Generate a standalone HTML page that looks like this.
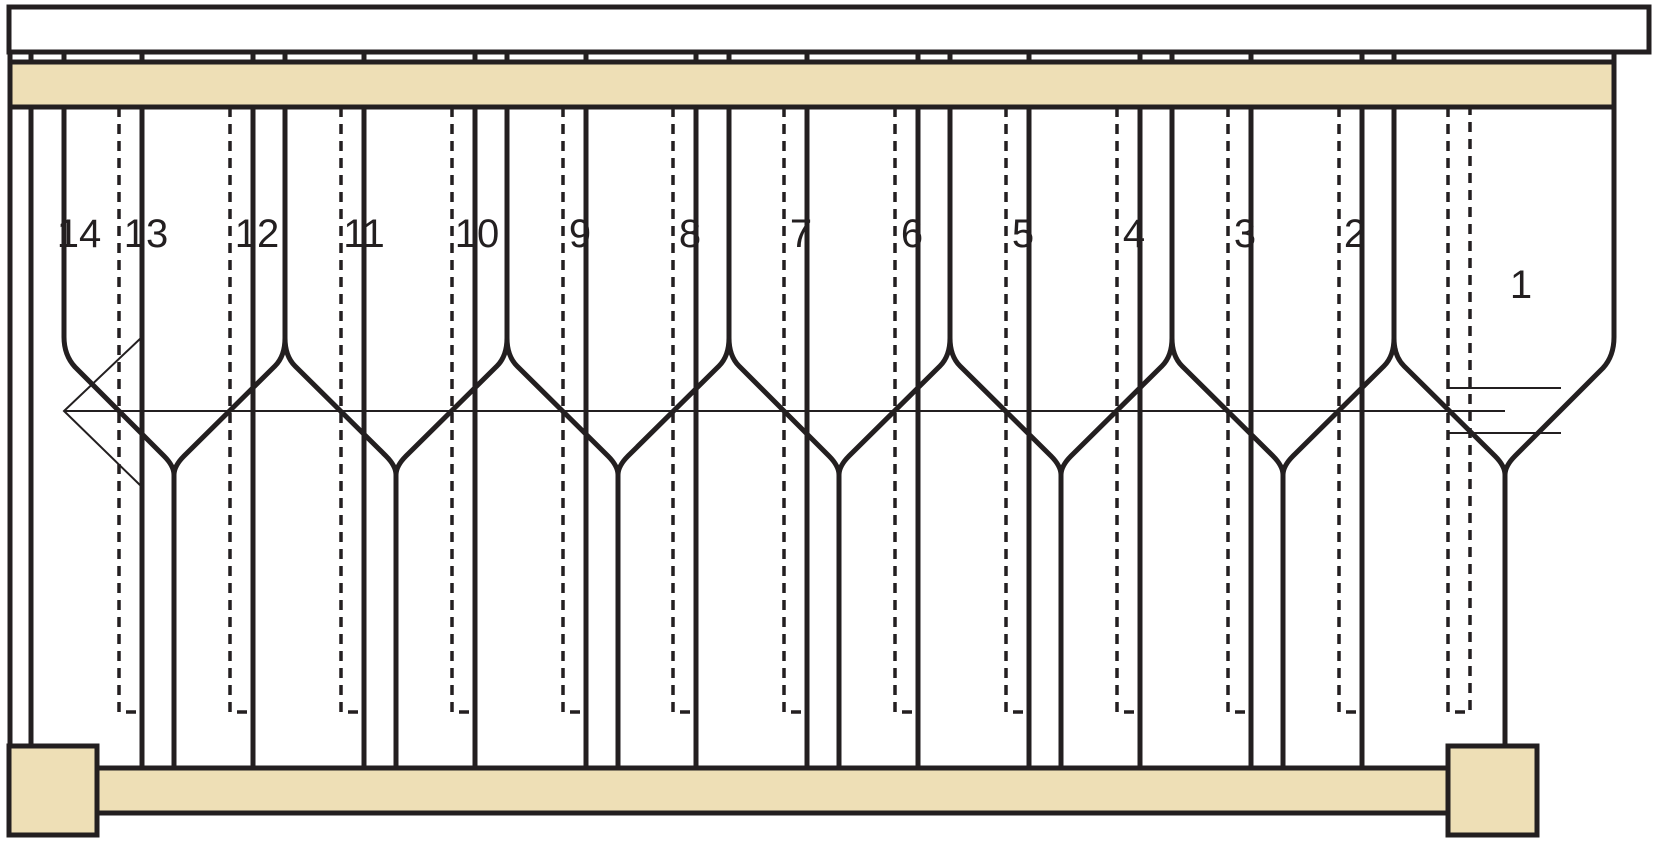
<!DOCTYPE html>
<html><head><meta charset="utf-8"><style>
html,body{margin:0;padding:0;background:#fff;}
svg{display:block;}
text{font-family:"Liberation Sans",sans-serif;font-size:40px;fill:#231f20;}
</style></head><body>
<svg width="1656" height="843" viewBox="0 0 1656 843" xmlns="http://www.w3.org/2000/svg">
<g stroke="#231f20" fill="none" stroke-linecap="butt">
<g stroke-width="3.5" stroke-dasharray="10,7">
<path d="M119 107V712H142"/>
<path d="M230 107V712H253"/>
<path d="M341 107V712H364"/>
<path d="M452 107V712H475"/>
<path d="M563 107V712H586"/>
<path d="M673 107V712H696"/>
<path d="M784 107V712H807"/>
<path d="M895 107V712H918"/>
<path d="M1006 107V712H1029"/>
<path d="M1117 107V712H1140"/>
<path d="M1228 107V712H1251"/>
<path d="M1339 107V712H1362"/>
<path d="M1448 107V712H1470V107"/>
</g>
<g stroke-width="5">
<path d="M10 7V745M31 52V745"/>
<path d="M142 52V768M253 52V768M364 52V768M475 52V768M586 52V768M696 52V768M807 52V768M918 52V768M1029 52V768M1140 52V768M1251 52V768M1362 52V768"/>
<path d="M285 52V338M507 52V338M729 52V338M950 52V338M1172 52V338M1394 52V338"/>
<path d="M174 475V768M396 475V768M618 475V768M839 475V768M1061 475V768M1283 475V768M1505 475V745"/>
<path stroke-linejoin="round" d="M64 52V337Q64 355 75 367L164 456Q174 466 174 475Q174 466 184 456L275 366Q285 356 285 338Q285 356 295 366L386 456Q396 466 396 475Q396 466 406 456L497 366Q507 356 507 338Q507 356 517 366L608 456Q618 466 618 475Q618 466 628 456L719 366Q729 356 729 338Q729 356 739 366L829 456Q839 466 839 475Q839 466 849 456L940 366Q950 356 950 338Q950 356 960 366L1051 456Q1061 466 1061 475Q1061 466 1071 456L1162 366Q1172 356 1172 338Q1172 356 1182 366L1273 456Q1283 466 1283 475Q1283 466 1293 456L1384 366Q1394 356 1394 338Q1394 356 1404 366L1495 456Q1505 466 1505 475Q1505 466 1515 456L1603 368Q1614 356 1614 337V52"/>
</g>
<g stroke-width="2">
<path d="M142 337L64 411L142 487"/>
<path d="M64 411H1505"/>
<path d="M1448 388H1561M1448 433H1561"/>
</g>
<g stroke-width="5">
<rect x="9" y="7" width="1640" height="45" fill="#fff"/>
<rect x="10" y="62" width="1604" height="45" fill="#eedfb6"/>
<rect x="97" y="768" width="1351" height="45" fill="#eedfb6"/>
<rect x="9" y="746" width="88" height="89" fill="#eedfb6"/>
<rect x="1448" y="746" width="89" height="89" fill="#eedfb6"/>
</g>
</g>
<g text-anchor="middle">
<text x="79" y="247">14</text>
<text x="146" y="247">13</text>
<text x="257" y="247">12</text>
<text x="364" y="247">11</text>
<text x="477" y="247">10</text>
<text x="580" y="247">9</text>
<text x="690" y="247">8</text>
<text x="801" y="247">7</text>
<text x="912" y="247">6</text>
<text x="1023" y="247">5</text>
<text x="1134" y="247">4</text>
<text x="1245" y="247">3</text>
<text x="1355" y="247">2</text>
<text x="1521" y="298">1</text>
</g>
</svg>
</body></html>
